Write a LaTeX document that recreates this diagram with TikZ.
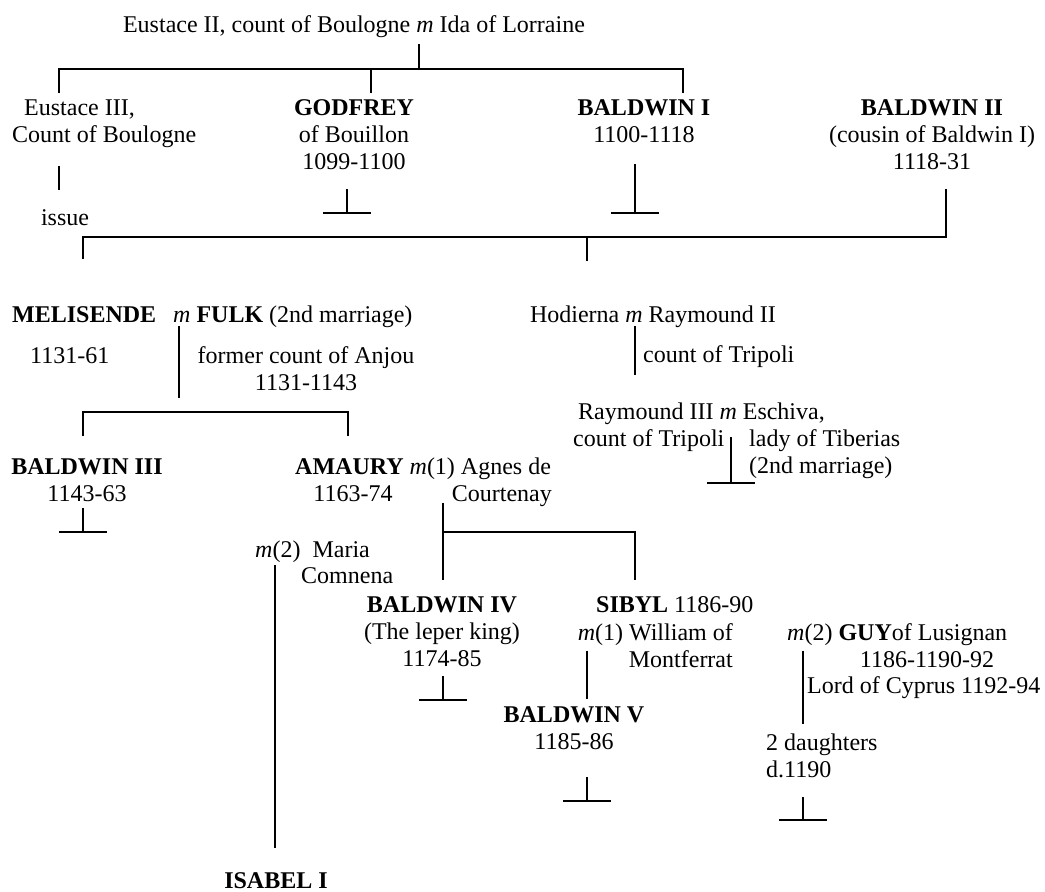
\documentclass[tikz,border=0pt]{standalone}
\usepackage{fontspec}
\setmainfont{Liberation Serif}
\usetikzlibrary{positioning}

\begin{document}
\begin{tikzpicture}[
  x=1pt,y=-1pt,
  person/.style={inner sep=0pt,anchor=base,font=\fontsize{24}{27}\selectfont},
  lft/.style={person,anchor=base west,align=left},
  ctr/.style={person,anchor=base,align=center},
  line/.style={line width=1.6pt},
]
  \useasboundingbox (0,0) rectangle (1045,892);

  % people (y = baseline of the last line)
  \node[ctr] (eustaceII) at (354,32) {Eustace II, count of Boulogne \textit{m} Ida of Lorraine};
  \node[lft] (eustaceIII) at (12,142) {\hspace*{12pt}Eustace III,\\Count of Boulogne};
  \node[ctr] (godfrey) at (354,169) {\textbf{GODFREY}\\of Bouillon\\1099-1100};
  \node[ctr] (baldwinI) at (644,142) {\textbf{BALDWIN I}\\1100-1118};
  \node[ctr] (baldwinII) at (932,169) {\textbf{BALDWIN II}\\(cousin of Baldwin I)\\1118-31};
  \node[ctr] (issue) at (65,225) {issue};

  \node[lft] (melisende) at (12,322) {\textbf{MELISENDE}};
  \node[lft] (fulk) at (173,322) {\textit{m} \textbf{FULK} (2nd marriage)};
  \node[lft] (melreign) at (30,363) {1131-61};
  \node[ctr] (fulkinfo) at (306,390) {former count of Anjou\\1131-1143};
  \node[ctr] (hodierna) at (653,322) {Hodierna \textit{m} Raymound II};
  \node[lft] (raymondII) at (643,362) {count of Tripoli};
  \node[lft] (raymondIII) at (578,419) {Raymound III \textit{m} Eschiva,};
  \node[lft] (raymondIIIinfo) at (573,446) {count of Tripoli};
  \node[lft] (eschiva) at (749,473) {lady of Tiberias\\(2nd marriage)};

  \node[ctr] (baldwinIII) at (87,501) {\textbf{BALDWIN III}\\1143-63};
  \node[lft] (amaury) at (295,474) {\textbf{AMAURY} \textit{m}(1) Agnes de};
  \node[ctr] (amreign) at (353,501) {1163-74};
  \node[person,anchor=base east] (agnes) at (552,501) {Courtenay};
  \node[lft] (maria) at (255,557) {\textit{m}(2)\hspace{12pt}Maria};
  \node[lft] (comnena) at (301,583) {Comnena};

  \node[ctr] (baldwinIV) at (442,666) {\textbf{BALDWIN IV}\\(The leper king)\\1174-85};
  \node[lft] (sibyl) at (596,612) {\textbf{SIBYL} 1186-90};
  \node[person,anchor=base east,align=right] (william) at (733,667) {\textit{m}(1) William of\\Montferrat};
  \node[lft] (guy) at (787,640) {\textit{m}(2) \textbf{GUY}of Lusignan};
  \node[ctr] (guyreign) at (927,667) {1186-1190-92};
  \node[lft] (cyprus) at (807,693) {Lord of Cyprus 1192-94};
  \node[ctr] (baldwinV) at (574,749) {\textbf{BALDWIN V}\\1185-86};
  \node[lft] (daughters) at (766,777) {2 daughters\\d.1190};
  \node[ctr] (isabel) at (276,888) {\textbf{ISABEL I}};

  % line ends
  \coordinate (c1) at (419,44);
  \coordinate (c1bar) at (419,69);
  \coordinate (eustaceIIIup) at (59,93);
  \coordinate (godfreyup) at (371,93);
  \coordinate (baldwinIup) at (683,93);
  \coordinate (eustaceIIIdn) at (59,166);
  \coordinate (issueup) at (59,190);
  \coordinate (godfreydn) at (347,189);
  \coordinate (godfreyend) at (347,213);
  \coordinate (baldwinIdn) at (635,164);
  \coordinate (baldwinIend) at (635,213);
  \coordinate (baldwinIIdn) at (946,189);
  \coordinate (c2bar) at (946,237);
  \coordinate (melisendeup) at (83,259);
  \coordinate (hodiernaup) at (587,261);
  \coordinate (hodiernabar) at (587,237);
  \coordinate (c3) at (179,326);
  \coordinate (c3bar) at (179,412);
  \coordinate (c3end) at (179,398);
  \coordinate (baldwinIIIup) at (83,436);
  \coordinate (amauryup) at (348,436);
  \coordinate (c4) at (635,326);
  \coordinate (c4end) at (635,375);
  \coordinate (c5) at (731,437);
  \coordinate (c5end) at (731,483);
  \coordinate (baldwinIIIdn) at (83,508);
  \coordinate (baldwinIIIend) at (83,532);
  \coordinate (c6) at (443,503);
  \coordinate (c6bar) at (443,532);
  \coordinate (baldwinIVup) at (443,580);
  \coordinate (sibylup) at (635,580);
  \coordinate (c7) at (275,565);
  \coordinate (isabelup) at (275,848);
  \coordinate (baldwinIVdn) at (443,676);
  \coordinate (baldwinIVend) at (443,700);
  \coordinate (c8) at (587,651);
  \coordinate (baldwinVup) at (587,699);
  \coordinate (baldwinVdn) at (587,777);
  \coordinate (baldwinVend) at (587,801);
  \coordinate (c9) at (803,651);
  \coordinate (daughtersup) at (803,724);
  \coordinate (daughtersdn) at (803,797);
  \coordinate (daughtersend) at (803,820);

  % descent lines
  \draw[line] (c1) -- (c1bar);
  \draw[line] (eustaceIIIup) |- (c1bar) -| (baldwinIup);
  \draw[line] (godfreyup) |- (c1bar);
  \draw[line] (eustaceIIIdn) -- (issueup);
  \draw[line] (baldwinIIdn) -- (c2bar) -| (melisendeup);
  \draw[line] (hodiernabar) -- (hodiernaup);
  \draw[line] (c3) -- (c3end);
  \draw[line] (baldwinIIIup) |- (c3bar) -| (amauryup);
  \draw[line] (c4) -- (c4end);
  \draw[line] (c6) -- (baldwinIVup);
  \draw[line] (c6bar) -| (sibylup);
  \draw[line] (c7) -- (isabelup);
  \draw[line] (c8) -- (baldwinVup);
  \draw[line] (c9) -- (daughtersup);

  % no issue
  \foreach \a/\b in {godfreydn/godfreyend,baldwinIdn/baldwinIend,c5/c5end,
                     baldwinIIIdn/baldwinIIIend,baldwinIVdn/baldwinIVend,
                     baldwinVdn/baldwinVend,daughtersdn/daughtersend}{
    \draw[line] (\a) -- (\b);
    \draw[line] ([xshift=-24pt]\b) -- ([xshift=24pt]\b);
  }
\end{tikzpicture}
\end{document}
